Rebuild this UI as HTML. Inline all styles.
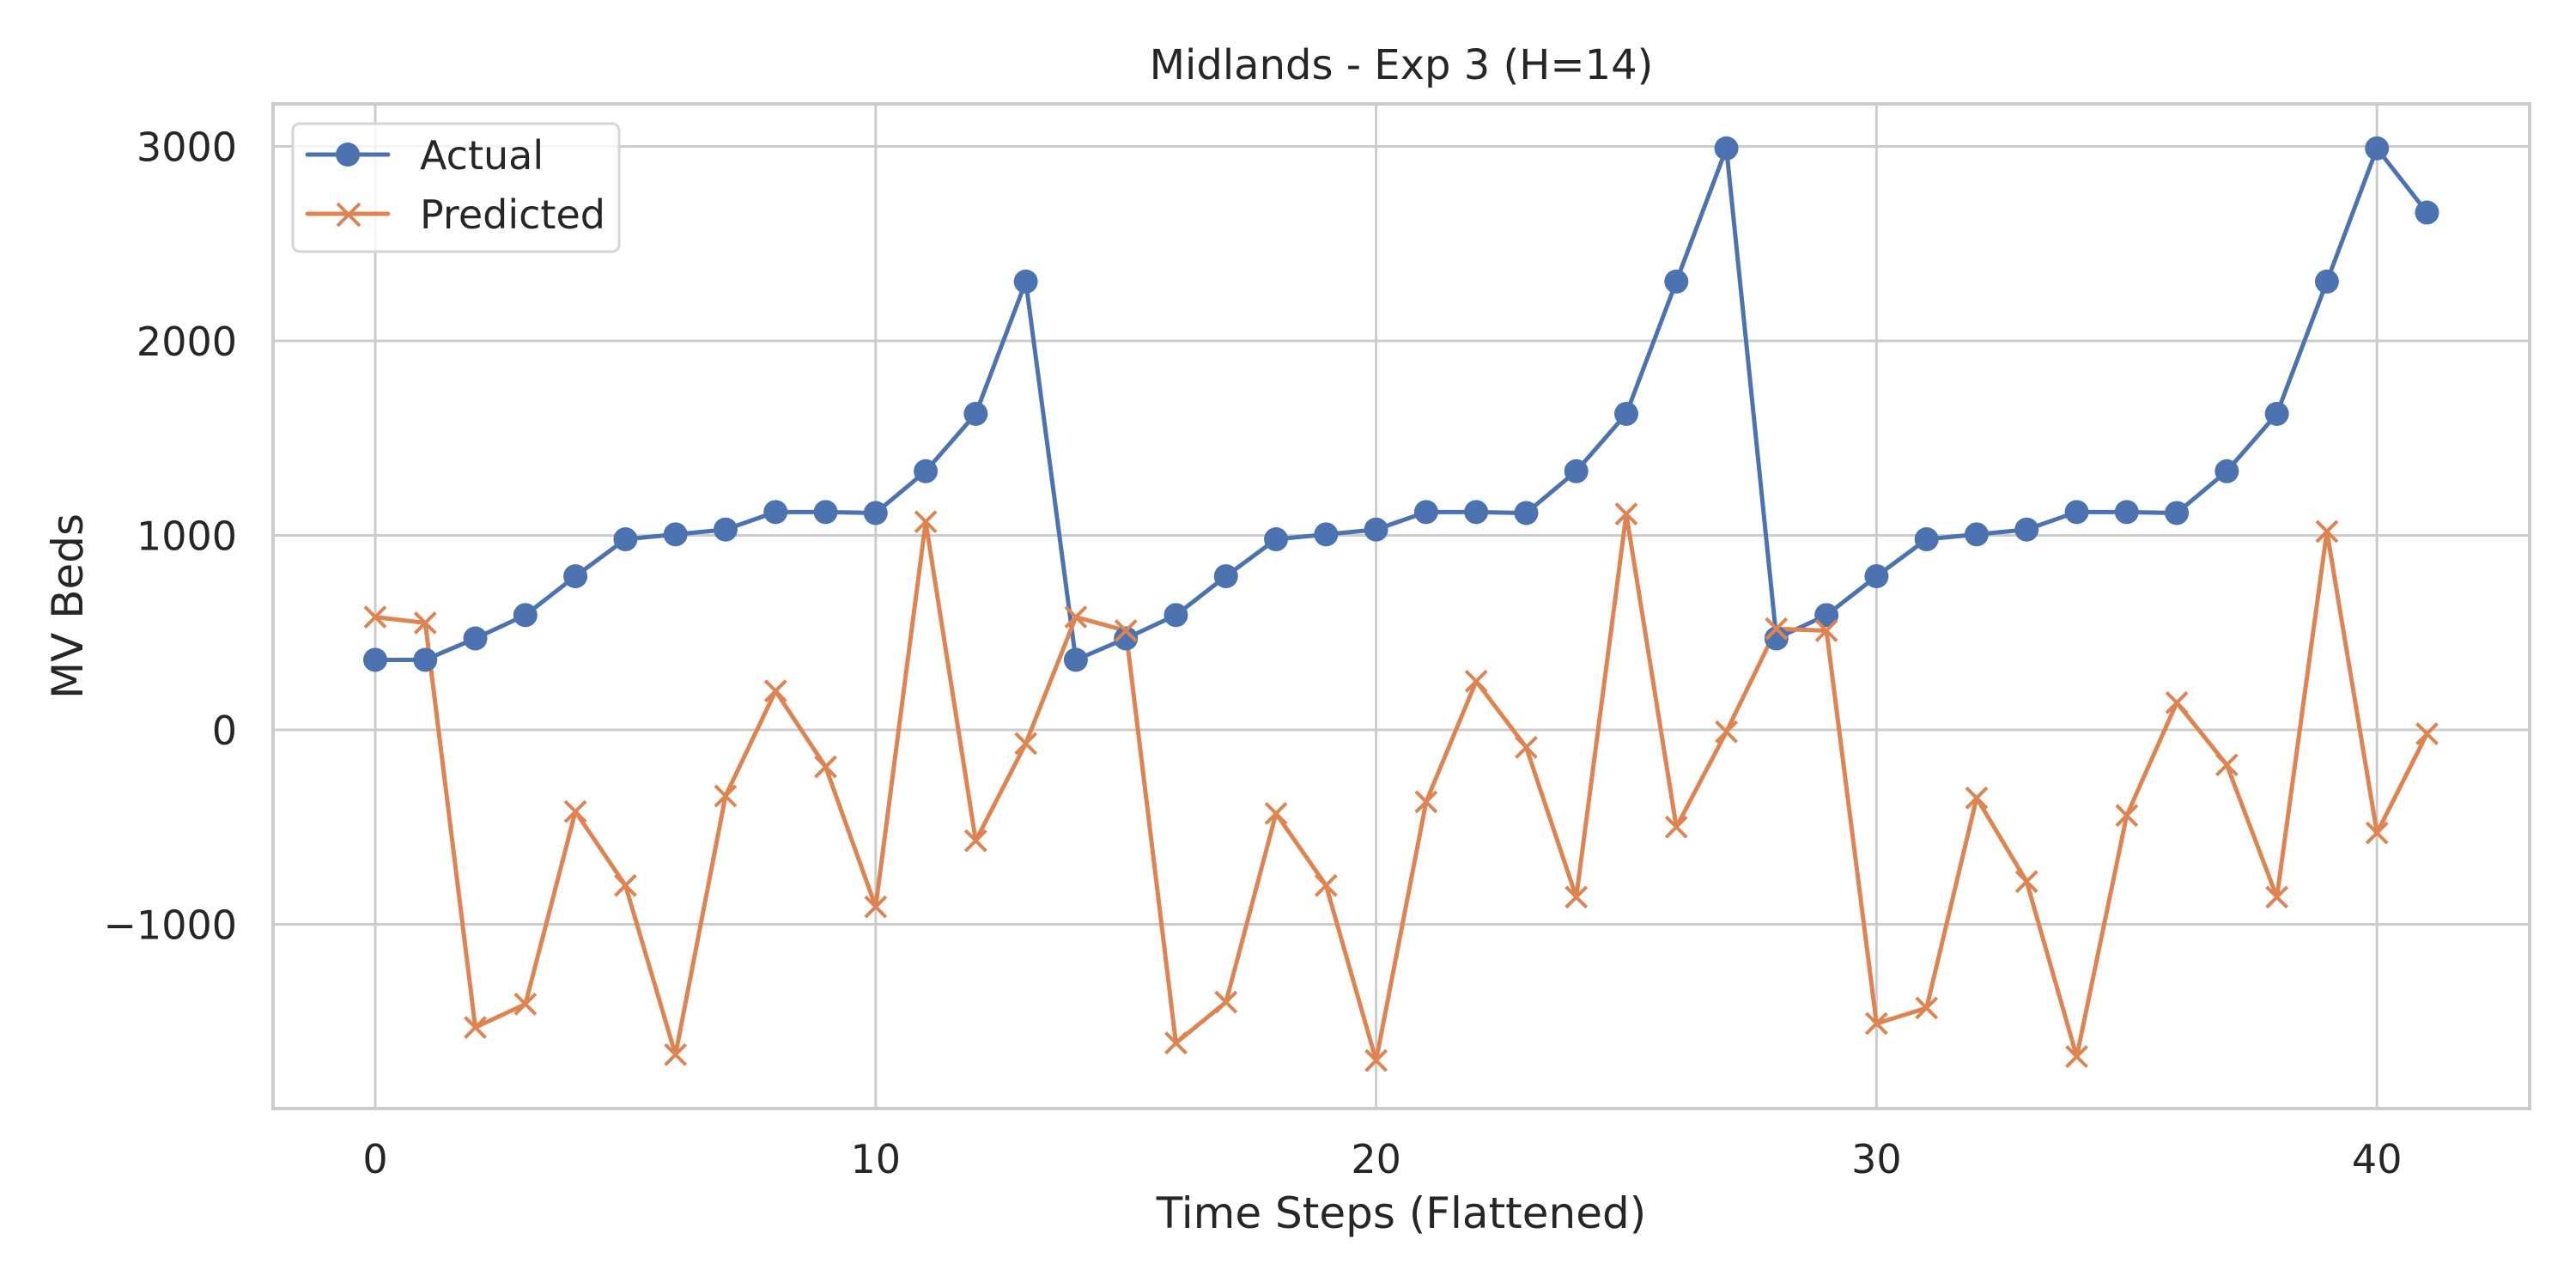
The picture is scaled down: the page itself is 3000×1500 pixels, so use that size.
<!DOCTYPE html>
<html><head><meta charset="utf-8"><style>
html,body{margin:0;padding:0;background:#fff;}
svg{display:block;font-family:"DejaVu Sans","Liberation Sans",sans-serif;}
</style></head><body>
<svg id="chart" width="3000" height="1500" viewBox="0 0 3000 1500" xmlns="http://www.w3.org/2000/svg">
<rect x="0" y="0" width="3000" height="1500" fill="#fff"/>
<g id="grid"></g>
<rect x="318" y="121" width="2628" height="1170" fill="none" stroke="#cccccc" stroke-width="4"/>
<g id="ticks"></g>
<g id="series"></g>
<text x="1632" y="92" font-size="48" fill="#262626" text-anchor="middle">Midlands - Exp 3 (H=14)</text>
<text x="1632" y="1430" font-size="50" fill="#262626" text-anchor="middle">Time Steps (Flattened)</text>
<text x="0" y="0" font-size="50" fill="#262626" text-anchor="middle" transform="translate(96,706) rotate(-90)">MV Beds</text>
<g>
<rect x="341" y="144" width="380" height="149" rx="8" fill="#fff" fill-opacity="0.8" stroke="#d5d5d5" stroke-width="3"/>
<g>
<line x1="358" y1="180" x2="452" y2="180" stroke="#4c72b0" stroke-width="5" stroke-linecap="round"/>
<circle cx="405" cy="180" r="14" fill="#4c72b0"/>
<text x="489" y="197" font-size="46" fill="#262626">Actual</text>
</g>
<g>
<line x1="358" y1="249" x2="452" y2="249" stroke="#dd8452" stroke-width="5" stroke-linecap="round"/>
<path d="M393 237 L419 263 M419 237 L393 263" stroke="#dd8452" stroke-width="4"/>
<text x="489" y="266" font-size="46" fill="#262626">Predicted</text>
</g>
</g>
</svg>
<script>
const steps = [];
for (let i = 0; i < 42; i++) steps.push(i);
const actualValues = [360,360,470,590,790,980,1005,1030,1120,1120,1115,1330,1625,2305,
 360,470,590,790,980,1005,1030,1120,1120,1115,1330,1625,2305,2990,
 470,590,790,980,1005,1030,1120,1120,1115,1330,1625,2305,2990,2660];
const predictedValues = [580,550,-1530,-1410,-420,-800,-1670,-340,200,-190,-910,1070,-570,-70,
 580,510,-1610,-1400,-430,-800,-1700,-370,250,-90,-860,1110,-500,-10,
 520,510,-1510,-1430,-350,-780,-1680,-440,140,-180,-860,1020,-530,-20];
const xTicks = [0,10,20,30,40];
const yTicks = [-1000,0,1000,2000,3000];
const yTickLabels = ["\u22121000","0","1000","2000","3000"];

const NS = "http://www.w3.org/2000/svg";
const X0 = 437, XPER = 58.28;
const Y0 = 850, YPER = 0.2265;
function xs(v){ return X0 + v * XPER; }
function ys(v){ return Y0 - v * YPER; }
function mk(tag, attrs, parent){
  const e = document.createElementNS(NS, tag);
  for (const k in attrs) e.setAttribute(k, attrs[k]);
  parent.appendChild(e);
  return e;
}
const grid = document.getElementById('grid');
const ticks = document.getElementById('ticks');
const series = document.getElementById('series');

xTicks.forEach(t => {
  const l = mk('line', {x1: xs(t), x2: xs(t), y1: 121, y2: 1291, stroke: '#cccccc', 'stroke-width': 3}, grid);
  
  
  const tx = mk('text', {x: xs(t), y: 1366, 'font-size': 46, fill: '#262626', 'text-anchor': 'middle'}, ticks);
  tx.textContent = String(t);
  
  
});
yTicks.forEach((t, i) => {
  const l = mk('line', {x1: 318, x2: 2946, y1: ys(t), y2: ys(t), stroke: '#cccccc', 'stroke-width': 3}, grid);
  
  
  const tx = mk('text', {x: 276, y: ys(t) + 17, 'font-size': 46, fill: '#262626', 'text-anchor': 'end'}, ticks);
  tx.textContent = yTickLabels[i];
  
  
});

const aPts = steps.map((s, i) => xs(s) + ',' + ys(actualValues[i])).join(' ');
const aLine = mk('polyline', {points: aPts, fill: 'none', stroke: '#4c72b0', 'stroke-width': 5, 'stroke-linejoin': 'round'}, series);


const pPts = steps.map((s, i) => xs(s) + ',' + ys(predictedValues[i])).join(' ');
const pLine = mk('polyline', {points: pPts, fill: 'none', stroke: '#dd8452', 'stroke-width': 5, 'stroke-linejoin': 'round'}, series);



steps.forEach((s, i) => {
  const c = mk('circle', {cx: xs(s), cy: ys(actualValues[i]), r: 14, fill: '#4c72b0'}, series);
  
  
});
steps.forEach((s, i) => {
  const x = xs(s), y = ys(predictedValues[i]), d = 12;
  const p = mk('path', {d: `M${x-d} ${y-d} L${x+d} ${y+d} M${x+d} ${y-d} L${x-d} ${y+d}`, stroke: '#dd8452', 'stroke-width': 4, fill: 'none'}, series);
  
  
});
</script>
</body></html>
